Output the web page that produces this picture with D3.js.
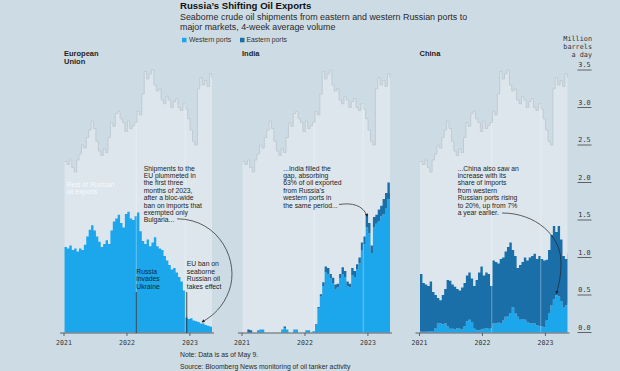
<!DOCTYPE html>
<html><head><meta charset="utf-8">
<script src="https://cdn.jsdelivr.net/npm/d3@7"></script>
<style>
html,body{margin:0;padding:0;background:#cddbe4;}
svg{display:block;font-family:"Liberation Sans",Arial,sans-serif;}
.mono{font-family:"DejaVu Sans Mono","Liberation Mono",monospace;}
</style></head><body>
<svg id="c" width="620" height="371"></svg>
<script>
// ---- DATA (4-week average volume, million barrels a day; one value every 14 days from 2021-01-04) ----
const startDate = "2021-01-04";
const stepDays = 14;
const domainStart = "2021-01-01", domainEnd = "2023-05-09";
const totalExports = [2.28,2.24,2.30,2.20,2.14,2.30,2.38,2.50,2.46,2.60,
 2.70,2.82,2.72,2.55,2.42,2.36,2.45,2.40,2.60,2.80,
 2.75,2.92,2.95,2.85,2.80,2.68,2.82,2.72,2.76,2.80,
 2.95,2.90,3.18,3.48,3.38,3.45,3.50,3.30,3.22,3.25,
 3.10,3.05,3.15,3.10,3.00,3.08,3.12,3.00,2.96,3.05,
 2.98,2.85,2.70,2.55,2.50,3.25,3.40,3.30,3.36,3.28,
 3.45,3.40];
const euWest = [1.14,1.12,1.16,1.10,1.12,1.08,1.12,1.10,1.17,1.28,
 1.37,1.43,1.36,1.28,1.21,1.14,1.18,1.23,1.18,1.36,
 1.48,1.52,1.57,1.46,1.40,1.58,1.61,1.52,1.50,1.55,
 1.60,1.35,1.22,1.18,1.24,1.15,1.20,1.27,1.15,1.12,
 1.10,1.02,0.96,0.90,0.84,0.86,0.80,0.74,0.68,0.56,
 0.20,0.18,0.19,0.16,0.15,0.14,0.12,0.12,0.10,0.09,
 0.08,0.07];
const indiaWest = [0,0,0,0,0,0,0.03,0.04,0.04,0,
 0,0,0,0,0,0,0.04,0.06,0.04,0,
 0,0.04,0.04,0,0,0,0.03,0.03,0,0.02,
 0.10,0.32,0.48,0.62,0.80,0.78,0.72,0.66,0.58,0.60,
 0.72,0.78,0.74,0.62,0.60,0.76,0.74,0.84,0.92,1.10,
 1.18,1.40,1.32,1.06,1.40,1.45,1.48,1.55,1.58,1.66,
 1.78,1.68];
const indiaEast = [0,0,0.04,0.03,0,0,0,0,0,0,
 0,0,0,0,0,0,0,0.02,0,0,
 0,0,0,0,0,0,0,0,0,0,
 0.01,0.02,0.03,0.05,0.08,0.08,0.06,0.07,0.06,0.05,
 0.06,0.09,0.08,0.06,0.05,0.10,0.08,0.07,0.08,0.10,
 0.10,0.18,0.14,0.10,0.14,0.12,0.16,0.14,0.20,0.20,
 0.22,0.18];
const chinaWest = [0.01,0.01,0.01,0.01,0.02,0.02,0.06,0.12,0.12,0.11,
 0.12,0.08,0.05,0.05,0.04,0.06,0.05,0.04,0.08,0.15,
 0.17,0.14,0.05,0.03,0.03,0.04,0.05,0.06,0.05,0.06,
 0.12,0.12,0.13,0.12,0.16,0.21,0.22,0.26,0.34,0.26,
 0.21,0.17,0.18,0.17,0.14,0.12,0.12,0.12,0.10,0.08,
 0.08,0.07,0.16,0.26,0.36,0.44,0.50,0.48,0.42,0.34,
 0.36,0.40];
const chinaEast = [0.77,0.65,0.63,0.61,0.66,0.52,0.44,0.34,0.31,0.39,
 0.46,0.62,0.64,0.59,0.57,0.52,0.51,0.56,0.58,0.61,
 0.63,0.58,0.57,0.67,0.77,0.84,0.71,0.74,0.73,0.56,
 0.84,0.82,0.79,0.86,0.84,0.87,0.92,0.94,0.76,0.76,
 0.65,0.73,0.76,0.83,0.82,0.88,0.90,0.93,0.88,0.94,
 0.90,0.89,0.81,0.84,0.94,0.98,0.84,0.94,0.82,0.68,
 0.62,0.65];
const yTicks = [0,0.5,1,1.5,2,2.5,3,3.5];
const xTickYears = ["2021","2022","2023"];
const eventDates = ["2022-02-24","2022-12-05"];
const seriesNames = ["Western ports","Eastern ports"];
const panelNames = [["European","Union"],["India"],["China"]];

// ---- STYLE / LAYOUT ----
const C = {bg:"#cddbe4", area:"#dce6ec", total:"#c0cbd3", west:"#1ca6eb", east:"#1a6fa9", text:"#1f1f1f", axis:"#444"};
const svg = d3.select("#c");
svg.append("rect").attr("width",620).attr("height",371).attr("fill",C.bg);
const parse = d3.timeParse("%Y-%m-%d");
const t0 = parse(startDate);
const dates = totalExports.map((_,i)=>d3.timeDay.offset(t0, i*stepDays));
const dEnd = parse(domainEnd);
const y = d3.scaleLinear().domain([0,3.5]).range([332.5,70]);
const panelX = [64,242,419.5], panelW = 148;

const defs = svg.append("defs");
defs.append("marker").attr("id","ah").attr("viewBox","0 0 6 6").attr("refX",5).attr("refY",3)
  .attr("markerWidth",4.5).attr("markerHeight",4.5).attr("orient","auto")
  .append("path").attr("d","M0,0L6,3L0,6Z").attr("fill","#222");

function ext(arr){ // carry last value to the end of the domain for step curves
  const pts = arr.map((v,i)=>({d:dates[i], v}));
  pts.push({d:dEnd, v:arr[arr.length-1]});
  return pts;
}

const panels = [
  {west:euWest, east:null},
  {west:indiaWest, east:indiaEast},
  {west:chinaWest, east:chinaEast}
];

panels.forEach((p,pi)=>{
  const x = d3.scaleTime().domain([parse(domainStart), dEnd]).range([panelX[pi], panelX[pi]+panelW]);
  const g = svg.append("g");
  const tot = ext(totalExports);
  g.append("path").datum(tot).attr("fill",C.area)
    .attr("d", d3.area().curve(d3.curveStepAfter).x(d=>x(d.d)).y0(y(0)).y1(d=>y(d.v)));
  g.append("path").datum(tot).attr("fill","none").attr("stroke",C.total).attr("stroke-width",1)
    .attr("d", d3.line().curve(d3.curveStepAfter).x(d=>x(d.d)).y(d=>y(d.v)));
  const w = ext(p.west);
  g.append("path").datum(w).attr("fill",C.west)
    .attr("d", d3.area().curve(d3.curveStepAfter).x(d=>x(d.d)).y0(y(0)).y1(d=>y(d.v)));
  if(p.east){
    const st = p.east.map((v,i)=>({d:dates[i], lo:p.west[i], hi:p.west[i]+v}));
    st.push({d:dEnd, lo:st[st.length-1].lo, hi:st[st.length-1].hi});
    g.append("path").datum(st).attr("fill",C.east)
      .attr("d", d3.area().curve(d3.curveStepAfter).x(d=>x(d.d)).y0(d=>y(d.lo)).y1(d=>y(d.hi)));
  }
  eventDates.forEach(ed=>{
    const dd = parse(ed);
    const idx = d3.bisectLeft(dates, dd)-1;
    g.append("line").attr("x1",x(dd)).attr("x2",x(dd)).attr("y1",y(totalExports[idx])).attr("y2",y(0))
      .attr("stroke","#ffffff").attr("stroke-opacity",0.35).attr("stroke-width",1);
  });
  const ax = g.append("g").attr("transform","translate(0,333)");
  ax.append("line").attr("x1",panelX[pi]-4).attr("x2",panelX[pi]+panelW+2).attr("stroke",C.axis).attr("stroke-width",0.8);
  xTickYears.forEach(yr=>{
    const xx = x(parse(yr+"-01-01"));
    ax.append("line").attr("x1",xx).attr("x2",xx).attr("y1",0).attr("y2",3).attr("stroke",C.axis).attr("stroke-width",0.8);
    ax.append("text").attr("class","mono").attr("x",xx).attr("y",11.5).attr("text-anchor","middle")
      .attr("font-size",6.6).attr("fill","#333").text(yr);
  });
  const lab = svg.append("text").attr("x",panelX[pi]).attr("y",55.5).attr("font-size",7.5).attr("font-weight","bold").attr("fill",C.text);
  panelNames[pi].forEach((s,k)=>lab.append("tspan").attr("x",panelX[pi]).attr("dy",k?8:0).text(s));
  p.x = x;
});

const ya = svg.append("g");
yTicks.forEach(v=>{
  ya.append("line").attr("x1",577.5).attr("x2",591.5).attr("y1",y(v)).attr("y2",y(v)).attr("stroke",C.axis).attr("stroke-width",0.8);
  ya.append("text").attr("class","mono").attr("x",584.5).attr("y",y(v)-3).attr("text-anchor","middle")
    .attr("font-size",6.8).attr("fill","#333").text(d3.format(".1f")(v));
});
const unit = svg.append("text").attr("class","mono").attr("text-anchor","end").attr("font-size",6.8).attr("fill","#333");
["Million","barrels","a day"].forEach((s,k)=>unit.append("tspan").attr("x",592).attr("y",40.5+k*8).text(s));

svg.append("text").attr("x",180).attr("y",9.3).attr("font-size",9.6).attr("font-weight","bold").attr("fill","#111").text("Russia\u2019s Shifting Oil Exports");
const sub = svg.append("text").attr("font-size",8.9).attr("fill","#2a2a2a");
["Seaborne crude oil shipments from eastern and western Russian ports to","major markets, 4-week average volume"]
  .forEach((s,k)=>sub.append("tspan").attr("x",180).attr("y",19.5+k*10).text(s));
[[182,C.west,seriesNames[0],189],[240,C.east,seriesNames[1],246.5]].forEach(([lx,col,txt,tx])=>{
  svg.append("rect").attr("x",lx).attr("y",37.8).attr("width",4.5).attr("height",4.5).attr("fill",col);
  svg.append("text").attr("x",tx).attr("y",42.3).attr("font-size",6.8).attr("fill","#333").text(txt);
});
svg.append("text").attr("x",180).attr("y",356.5).attr("font-size",6.8).attr("fill","#2a2a2a").text("Note: Data is as of May 9.");
svg.append("text").attr("x",180).attr("y",368.5).attr("font-size",6.8).attr("fill","#2a2a2a").text("Source: Bloomberg News monitoring of oil tanker activity");

function block(x0,y0,lines,col,size,lh){
  const t = svg.append("text").attr("font-size",size||6.8).attr("fill",col||C.text);
  lines.forEach((s,k)=>t.append("tspan").attr("x",x0).attr("y",y0+k*(lh||7.4)).text(s));
}
const eu = panels[0].x, ind = panels[1].x, cn = panels[2].x;
block(66.5,186.5,["Rest of Russian","oil exports"],"#f7f9fb");
block(143.7,170.5,["Shipments to the","EU plummeted in","the first three","months of 2023,","after a bloc-wide","ban on imports that","exempted only","Bulgaria..."]);
const inv = eu(parse(eventDates[0])), ban = eu(parse(eventDates[1]));
block(inv,274,["Russia","invades","Ukraine"],"#0e2a3a");
block(ban+1.5,266.4,["EU ban on","seaborne","Russian oil","takes effect"]);
[inv,ban+1.5].forEach(xx=>svg.append("line").attr("x1",xx).attr("x2",xx).attr("y1",292).attr("y2",333).attr("stroke","#222").attr("stroke-width",0.8));
block(283.3,170.5,["...India filled the","gap, absorbing","63% of oil exported","from Russia\u2019s","western ports in","the same period..."]);
block(457.7,170.5,["...China also saw an","increase with its","share of imports","from western","Russian ports rising","to 20%, up from 7%","a year earlier."]);

const arrow = d => svg.append("path").attr("d",d).attr("fill","none").attr("stroke","#222").attr("stroke-width",0.7).attr("marker-end","url(#ah)");
const e1 = [eu(parse("2023-03-12")), y(0.14)];
arrow(`M177,218.8C220,219 240,262 229,291C223,307 213,316 ${e1[0]},${e1[1]}`);
const e2 = [ind(parse("2022-12-28")), y(1.55)];
arrow(`M339,204.5C352,202.5 363,205 ${e2[0]},${e2[1]}`);
const e3 = [cn(parse("2023-03-05")), y(0.52)];
arrow(`M502,213C536,213 561,236 561,262C561,276 559,285 ${e3[0]},${e3[1]}`);
</script>
</body></html>
